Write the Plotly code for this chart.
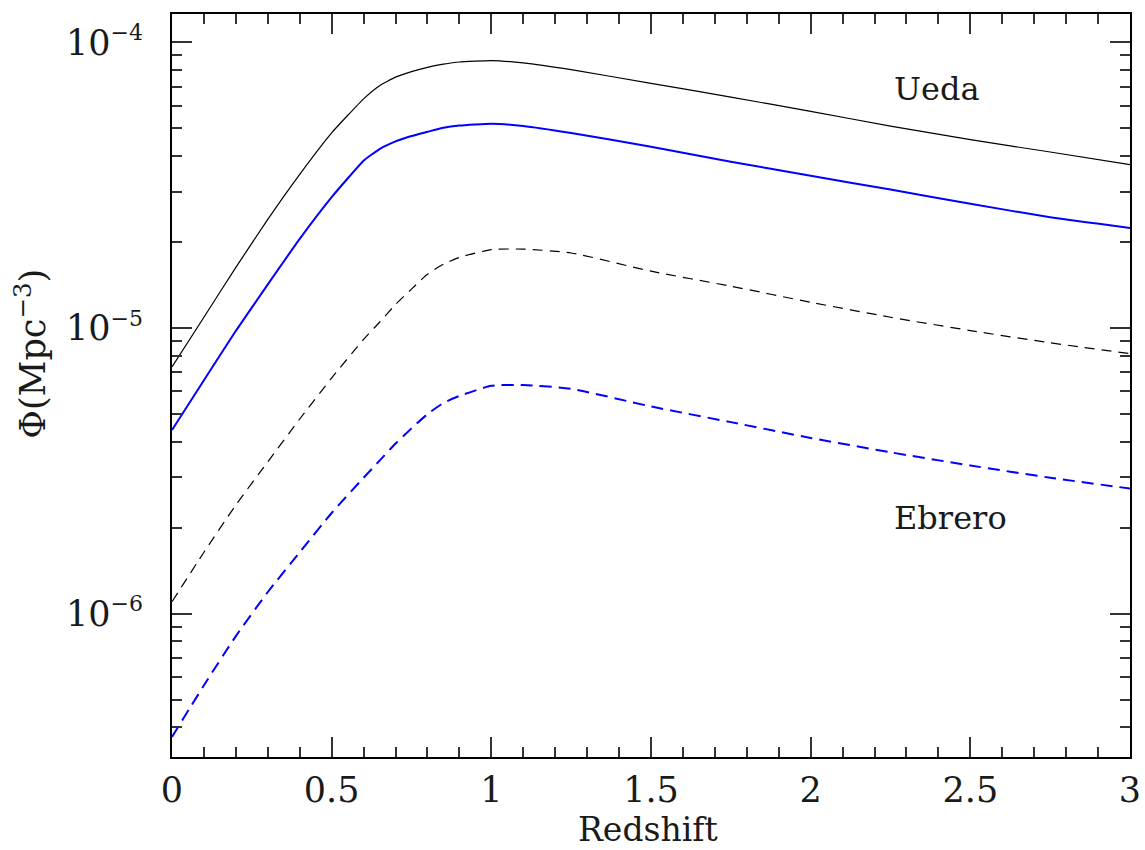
import plotly.graph_objects as go

# Redshift grid
redshift = [0, 0.1, 0.2, 0.3, 0.4, 0.5, 0.6, 0.65, 0.7, 0.75, 0.8, 0.85, 0.9, 1.0, 1.1,
            1.25, 1.5, 1.75, 2.0, 2.25, 2.5, 2.75, 3.0]

# Ueda (black solid) and Ueda subset (blue solid)
ueda_total = [7.31e-6, 1.09e-5, 1.63e-5, 2.40e-5, 3.45e-5, 4.82e-5, 6.34e-5, 7.05e-5,
              7.55e-5, 7.89e-5, 8.17e-5, 8.38e-5, 8.53e-5, 8.63e-5, 8.47e-5,
              8.02e-5, 7.18e-5, 6.43e-5, 5.73e-5, 5.09e-5, 4.56e-5, 4.13e-5, 3.73e-5]
ueda_blue = [4.39e-6, 6.56e-6, 9.77e-6, 1.42e-5, 2.05e-5, 2.87e-5, 3.85e-5, 4.23e-5,
             4.50e-5, 4.70e-5, 4.86e-5, 5.02e-5, 5.11e-5, 5.19e-5, 5.09e-5,
             4.81e-5, 4.31e-5, 3.82e-5, 3.41e-5, 3.05e-5, 2.72e-5, 2.44e-5, 2.24e-5]

# Ebrero (black dashed) and Ebrero subset (blue dashed)
ebrero_total = [1.10e-6, 1.64e-6, 2.40e-6, 3.40e-6, 4.80e-6, 6.68e-6, 9.12e-6, 1.047e-5,
                1.208e-5, 1.368e-5, 1.542e-5, 1.671e-5, 1.766e-5, 1.879e-5, 1.888e-5,
                1.83e-5, 1.58e-5, 1.40e-5, 1.23e-5, 1.09e-5, 9.79e-6, 8.87e-6, 8.13e-6]
ebrero_blue = [3.70e-7, 5.61e-7, 8.34e-7, 1.19e-6, 1.64e-6, 2.25e-6, 2.99e-6, 3.43e-6,
               3.94e-6, 4.45e-6, 4.99e-6, 5.46e-6, 5.78e-6, 6.27e-6, 6.31e-6,
               6.12e-6, 5.31e-6, 4.68e-6, 4.12e-6, 3.67e-6, 3.30e-6, 2.99e-6, 2.74e-6]

# Axis tick labels
y_tickvals = [1e-6, 1e-5, 1e-4]
y_ticktext = ["10<sup><span style='font-size:22px'>−6</span></sup>",
              "10<sup><span style='font-size:22px'>−5</span></sup>",
              "10<sup><span style='font-size:22px'>−4</span></sup>"]
x_tickvals = [0, 0.5, 1, 1.5, 2, 2.5, 3]
x_ticktext = ["0", "0.5", "1", "1.5", "2", "2.5", "3"]

FONT = "DejaVu Serif"
TXT = "#1a1a1a"

fig = go.Figure()
fig.add_trace(go.Scatter(x=redshift, y=ueda_total, mode="lines",
                         line=dict(color="black", width=1.2, shape="spline", smoothing=0.4)))
fig.add_trace(go.Scatter(x=redshift, y=ueda_blue, mode="lines",
                         line=dict(color="#0000ff", width=2, shape="spline", smoothing=0.4)))
fig.add_trace(go.Scatter(x=redshift, y=ebrero_total, mode="lines",
                         line=dict(color="black", width=1.2, dash="10px,7px",
                                   shape="spline", smoothing=0.6)))
fig.add_trace(go.Scatter(x=redshift, y=ebrero_blue, mode="lines",
                         line=dict(color="#0000ff", width=2, dash="12px,7px",
                                   shape="spline", smoothing=0.6)))

fig.update_layout(
    width=1145, height=850,
    margin=dict(l=172, r=15, t=14, b=93),
    paper_bgcolor="white", plot_bgcolor="white",
    showlegend=False,
    font=dict(family=FONT, color=TXT),
)
fig.update_xaxes(
    range=[0, 3], tickvals=x_tickvals, ticktext=x_ticktext, automargin=False,
    showgrid=False, zeroline=False,
    showline=True, linecolor="black", linewidth=2, mirror="ticks",
    ticks="inside", ticklen=20, tickwidth=1.5, tickcolor="#333",
    minor=dict(dtick=0.1, tick0=0, ticks="inside", ticklen=10, tickwidth=1.5,
               tickcolor="#333", showgrid=False),
    tickfont=dict(family=FONT, size=35, color=TXT),
    ticklabelstandoff=1,
)
fig.update_yaxes(
    type="log", range=[-6.502, -3.901], tickvals=y_tickvals, ticktext=y_ticktext,
    automargin=False,
    showgrid=False, zeroline=False,
    showline=True, linecolor="black", linewidth=2, mirror="ticks",
    ticks="inside", ticklen=20, tickwidth=1.5, tickcolor="#333",
    minor=dict(dtick="D1", ticks="inside", ticklen=10, tickwidth=1.5, tickcolor="#333", showgrid=False),
    tickfont=dict(family=FONT, size=35, color=TXT),
    ticklabelstandoff=20,
)

fig.add_annotation(text="Redshift", xref="paper", yref="paper", x=0.497, y=-0.098,
                   xanchor="center", yanchor="middle", showarrow=False,
                   font=dict(family=FONT, size=33, color=TXT))
fig.add_annotation(text="Φ(Mpc<sup>−3</sup>)", xref="paper", yref="paper", x=-0.148, y=0.543,
                   xanchor="center", yanchor="middle", showarrow=False, textangle=-90,
                   font=dict(family=FONT, size=35, color=TXT))
fig.add_annotation(text="Ueda", x=2.254, y=-4.165, xref="x", yref="y",
                   xanchor="left", yanchor="middle", showarrow=False,
                   font=dict(family=FONT, size=32, color=TXT))
fig.add_annotation(text="Ebrero", x=2.254, y=-5.664, xref="x", yref="y",
                   xanchor="left", yanchor="middle", showarrow=False,
                   font=dict(family=FONT, size=32, color=TXT))

fig.write_html("out.html")
